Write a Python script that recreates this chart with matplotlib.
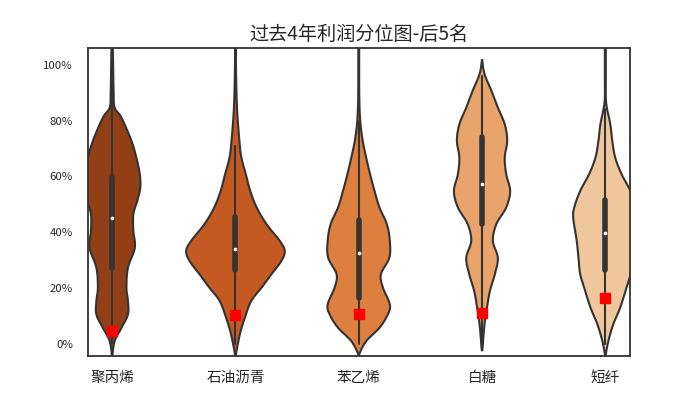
import numpy as np
import matplotlib.pyplot as plt
import seaborn as sns
from matplotlib.ticker import PercentFormatter

sns.set_style("white")
plt.rcParams['font.family'] = ['Noto Sans CJK SC', 'DejaVu Sans']

products = ['聚丙烯', '石油沥青', '苯乙烯', '白糖', '短纤']
colors = ['#933f16', '#c45a21', '#dd7f3e', '#e9a46c', '#f0c79c']
gray = '#333333'

# violin outlines: profit percentile (%) and
# relative density (1.0 = widest violin)
v1_y = [110, 100, 90, 84.7, 81, 72.8, 66.8, 60.8, 56, 51.3, 46.5, 40.5, 34.5, 27.3, 20.2, 15.4, 10.6, 5.8, 1, -5]
v1_d = [0.01, 0.02, 0.03, 0.05, 0.19, 0.39, 0.49, 0.56, 0.57, 0.51, 0.43, 0.43, 0.46, 0.32, 0.29, 0.32, 0.32, 0.19, 0.05, 0.0]
v2_y = [110, 100, 85, 72.8, 66.8, 60.8, 54.8, 48.9, 42.9, 36.9, 33.3, 29.7, 25, 20.2, 15.4, 9.4, 3.5, -3.7, -6]
v2_d = [0.01, 0.01, 0.03, 0.08, 0.12, 0.21, 0.30, 0.43, 0.63, 0.90, 1.0, 0.93, 0.73, 0.53, 0.32, 0.19, 0.09, 0.01, 0.0]
v3_y = [110, 90, 80, 72.8, 66.8, 60.8, 54.8, 48.9, 42.9, 36.9, 30.9, 25, 20.2, 14.2, 10.6, 5.8, 1, -3.7, -6]
v3_d = [0.01, 0.01, 0.03, 0.08, 0.15, 0.23, 0.32, 0.42, 0.57, 0.63, 0.62, 0.45, 0.49, 0.63, 0.59, 0.42, 0.15, 0.01, 0.0]
v4_y = [102, 96.7, 90.7, 84.7, 78.7, 72.8, 66.8, 60.8, 54.8, 48.9, 42.9, 36.9, 30.9, 25, 19, 13, 7, -1.3, -2.5]
v4_d = [0.0, 0.05, 0.19, 0.32, 0.46, 0.51, 0.46, 0.49, 0.57, 0.49, 0.29, 0.22, 0.32, 0.26, 0.16, 0.10, 0.05, 0.01, 0.0]
v5_y = [110, 95, 88.3, 84.7, 78.7, 72.8, 66.8, 60.8, 54.8, 48.9, 45, 36.9, 30, 25, 20.2, 13, 7, 1, -3.7, -6]
v5_d = [0.01, 0.01, 0.01, 0.03, 0.10, 0.14, 0.20, 0.33, 0.51, 0.63, 0.65, 0.58, 0.54, 0.51, 0.43, 0.30, 0.16, 0.06, 0.01, 0.0]

# box parts
q1 = [27.3, 26.4, 16.6, 43.1, 26.4]
median = [45.1, 33.9, 32.5, 57.2, 39.7]
q3 = [59.9, 45.5, 44.3, 74.0, 51.5]
whisker_lo = [0.5, 0, 0, -1.8, 0]
whisker_hi = [100, 71, 80, 96, 84]

# latest value
current = [4.5, 10.4, 10.6, 11.1, 16.4]

outlines = [(v1_y, v1_d), (v2_y, v2_d), (v3_y, v3_d), (v4_y, v4_d), (v5_y, v5_d)]


def smooth(y, d, n=12):
    # catmull-rom through the read points, just to round the outline
    pts = np.column_stack([y, d]).astype(float)
    p = np.vstack([pts[0], pts, pts[-1]])
    t = np.linspace(0, 1, n, endpoint=False)[:, None]
    out = []
    for k in range(1, len(p) - 2):
        p0, p1, p2, p3 = p[k - 1], p[k], p[k + 1], p[k + 2]
        seg = 0.5 * (2 * p1 + (-p0 + p2) * t + (2 * p0 - 5 * p1 + 4 * p2 - p3) * t ** 2
                     + (-p0 + 3 * p1 - 3 * p2 + p3) * t ** 3)
        out.append(seg)
    out.append(pts[-1:])
    s = np.vstack(out)
    return s[:, 0], np.maximum(s[:, 1], 0)


fig, ax = plt.subplots(figsize=(7, 4), dpi=100)

for i, (y, d) in enumerate(outlines):
    ys, ds = smooth(y, d)
    half = ds * 0.4
    px = np.concatenate([i + half, (i - half)[::-1]])
    py = np.concatenate([ys, ys[::-1]])
    ax.fill(px, py, facecolor=colors[i], edgecolor=gray, linewidth=1.5, zorder=1)
    ax.plot([i, i], [whisker_lo[i], whisker_hi[i]], color=gray, lw=1.5, zorder=2)
    ax.plot([i, i], [q1[i], q3[i]], color=gray, lw=4, solid_capstyle='round', zorder=2)
    ax.scatter(i, median[i], s=7, color='white', lw=0, zorder=3)
    ax.plot(i, current[i], 's', color='red', ms=7, zorder=4)

ax.set_xlim(-0.2, 4.2)
ax.set_ylim(-4.3, 106)
ax.set_xticks(range(len(products)))
ax.set_xticklabels(products)
ax.set_yticks([0, 20, 40, 60, 80, 100])
ax.yaxis.set_major_formatter(PercentFormatter(100, decimals=0))
ax.tick_params(axis='x', length=0, pad=10.5, labelsize=10.5, colors='#262626')
ax.tick_params(axis='y', length=0, pad=10.5, labelsize=8.2, colors='#262626')
for sp in ax.spines.values():
    sp.set_color(gray)
    sp.set_linewidth(1.3)
ax.set_title('过去4年利润分位图-后5名', fontsize=13.8, color='#262626')

plt.savefig('out.png')
